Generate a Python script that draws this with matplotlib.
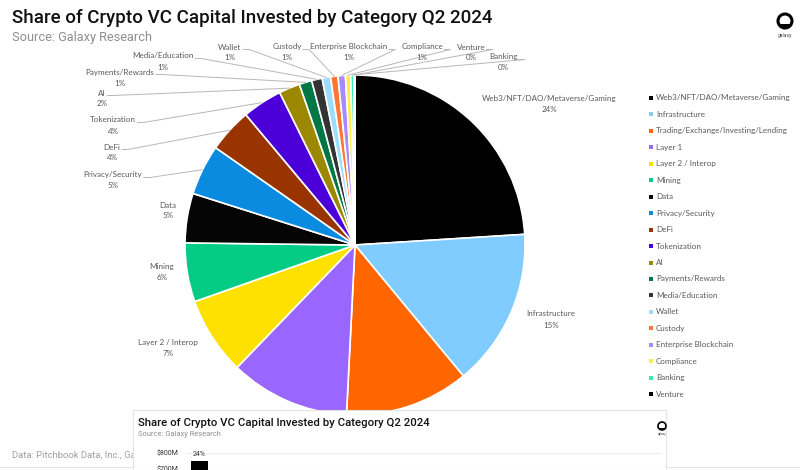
import matplotlib
matplotlib.use("Agg")
import matplotlib.pyplot as plt
from matplotlib.patches import Rectangle, Circle
from matplotlib.transforms import Bbox
import numpy as np

# ---------------- data ----------------
categories = ["Web3/NFT/DAO/Metaverse/Gaming", "Infrastructure",
              "Trading/Exchange/Investing/Lending", "Layer 1", "Layer 2 / Interop",
              "Mining", "Data", "Privacy/Security", "DeFi", "Tokenization", "AI",
              "Payments/Rewards", "Media/Education", "Wallet", "Custody",
              "Enterprise Blockchain", "Compliance", "Banking", "Venture"]
shares = [24.0, 15.0, 11.8, 11.4, 7.4, 5.6, 4.7, 4.8, 4.2, 3.8, 2.0,
          1.2, 1.0, 0.8, 0.7, 0.7, 0.5, 0.3, 0.1]
colors = ["#000000", "#80CBFF", "#FF6600", "#9966FF", "#FFE100", "#05CC85",
          "#050505", "#0A8BE0", "#993300", "#4B00D9", "#9C8800", "#007744",
          "#333333", "#99DDFF", "#FF7733", "#AA88FF", "#FFEE44", "#33EEAA", "#000000"]
bar_categories = ["Web3/NFT/DAO/Metaverse/Gaming"]
bar_values = [750]          # $M
bar_labels = ["24%"]
bar_ticks = [700, 800]

title = "Share of Crypto VC Capital Invested by Category Q2 2024"
subtitle = "Source: Galaxy Research"
footnote = "Data: Pitchbook Data, Inc., Galaxy Research"

# ---------------- layout (pixels, top-left origin) ----------------
W, H = 800, 470
def Y(y):
    return H - y

label_layout = {
    "Web3/NFT/DAO/Metaverse/Gaming": (549, 99, False),
    "Infrastructure": (551, 314, False),
    "Layer 2 / Interop": (168, 342, False),
    "Mining": (162, 267, False),
    "Data": (168, 205, False),
    "Privacy/Security": (113, 175, True),
    "DeFi": (112, 147, True),
    "Tokenization": (113, 120, True),
    "AI": (102, 93, True),
    "Payments/Rewards": (120, 72, True),
    "Media/Education": (163, 56, True),
    "Wallet": (230, 47, True),
    "Custody": (287, 47, True),
    "Enterprise Blockchain": (349, 47, True),
    "Compliance": (422, 47, True),
    "Venture": (471, 47, True),
    "Banking": (503, 57, True),
}

LABEL_FONT = "Lato"
LFS = 5.8
GRAY = "#595959"
HEAD_FONT = "Roboto"

fig = plt.figure(figsize=(8, 4.7), dpi=100)
fig.patch.set_facecolor("white")
ax = fig.add_axes([0, 0, 1, 1])

wedges, _ = ax.pie(shares, colors=colors, startangle=90, counterclock=False,
                   radius=170, center=(355, Y(245)), frame=True,
                   wedgeprops=dict(edgecolor="white", linewidth=1.2))
ax.set_xlim(0, W)
ax.set_ylim(0, H)
ax.set_aspect("equal")
ax.axis("off")

total = sum(shares)
label_texts = {}
for cat, val in zip(categories, shares):
    if cat not in label_layout:
        continue
    x, y, _lead = label_layout[cat]
    pct = int(np.floor(val / total * 100 + 0.5))
    t = ax.text(x, Y(y), cat, ha="center", va="center", fontsize=LFS,
                family=LABEL_FONT, color=GRAY, zorder=3)
    ax.text(x, Y(y + 11), f"{pct}%", ha="center", va="center", fontsize=LFS,
            family=LABEL_FONT, color=GRAY, zorder=3)
    label_texts[cat] = t

fig.canvas.draw()
for cat, w in zip(categories, wedges):
    if cat not in label_layout or not label_layout[cat][2]:
        continue
    bb = label_texts[cat].get_window_extent()
    x0 = bb.x1 + 1.5
    y0 = bb.y0 + 1
    mid = np.deg2rad((w.theta1 + w.theta2) / 2)
    ex = w.center[0] + w.r * np.cos(mid)
    ey = w.center[1] + w.r * np.sin(mid)
    ax.plot([x0, x0 + 6, ex], [y0, y0, ey], color="#b8b8b8", lw=0.7, zorder=2)

# legend (manual)
for i, (cat, col) in enumerate(zip(categories, colors)):
    yy = Y(97.7 + 16.48 * i)
    ax.add_patch(Rectangle((648.5, yy - 2), 4, 4, facecolor=col, edgecolor="none"))
    ax.text(656, yy, cat, ha="left", va="center", fontsize=LFS,
            family=LABEL_FONT, color=GRAY)

# titles
ax.text(12, Y(18), title, ha="left", va="center", fontsize=13.5,
        family=HEAD_FONT, fontweight=500, color="#111111")
ax.text(12, Y(37), subtitle, ha="left", va="center", fontsize=9.2,
        family=HEAD_FONT, color="#8f8f8f")

# logo
def logo(x, y, r, lw, fs, ty):
    ax.add_patch(Circle((x, Y(y)), r, facecolor="none", edgecolor="black", lw=lw, zorder=7))
    ax.add_patch(Rectangle((x - r * 0.75, Y(y) - r * 0.8), r * 1.5, r * 0.35,
                           facecolor="black", edgecolor="none", zorder=7))
    ax.text(x, Y(ty), "galaxy", ha="center", va="center", fontsize=fs,
            family=HEAD_FONT, color="#444444", zorder=7)

logo(785, 21, 7, 2.2, 3.6, 35)

# footnote (cut by overlay)
fn = ax.text(12, Y(455), footnote, ha="left", va="center", fontsize=6.8,
             family=HEAD_FONT, color="#a0a0a0")
fn.set_clip_box(Bbox([[0, 0], [133, H]]))

# bottom border
ax.plot([0, W], [Y(466.5), Y(466.5)], color="#e3e3e3", lw=0.8, zorder=1)

# overlay panel
ax.add_patch(Rectangle((133, Y(470)), 533, 60, facecolor="white",
                       edgecolor="#e3e3e3", lw=0.8, zorder=5))
ax.text(138, Y(423), title, ha="left", va="center", fontsize=8.2,
        family=HEAD_FONT, fontweight=500, color="#111111", zorder=6)
ax.text(138, Y(435), subtitle, ha="left", va="center", fontsize=5.4,
        family=HEAD_FONT, color="#8f8f8f", zorder=6)
logo(662, 426, 4, 1.2, 2.2, 434)

# inset bar chart
ax2 = fig.add_axes([187 / W, (H - 581) / H, 474 / W, 128 / H])
ax2.set_zorder(3)
ax2.patch.set_visible(False)
bars = ax2.bar(range(len(bar_values)), bar_values, width=0.7, color="black")
ax2.bar_label(bars, labels=bar_labels, fontsize=5, padding=2, family=HEAD_FONT, color="#333333")
ax2.set_xlim(-0.5, 18.5)
ax2.set_ylim(0, 800)
ax2.set_yticks(bar_ticks)
ax2.set_yticklabels([f"${v}M" for v in bar_ticks], fontsize=5, family=HEAD_FONT, color="#333333")
ax2.tick_params(length=0, pad=6)
ax2.set_xticks([])
for s in ax2.spines.values():
    s.set_visible(False)
ax2.axhline(800, color="#ececec", lw=0.8, zorder=0)

fig.savefig("out.png", dpi=100, facecolor="white")
